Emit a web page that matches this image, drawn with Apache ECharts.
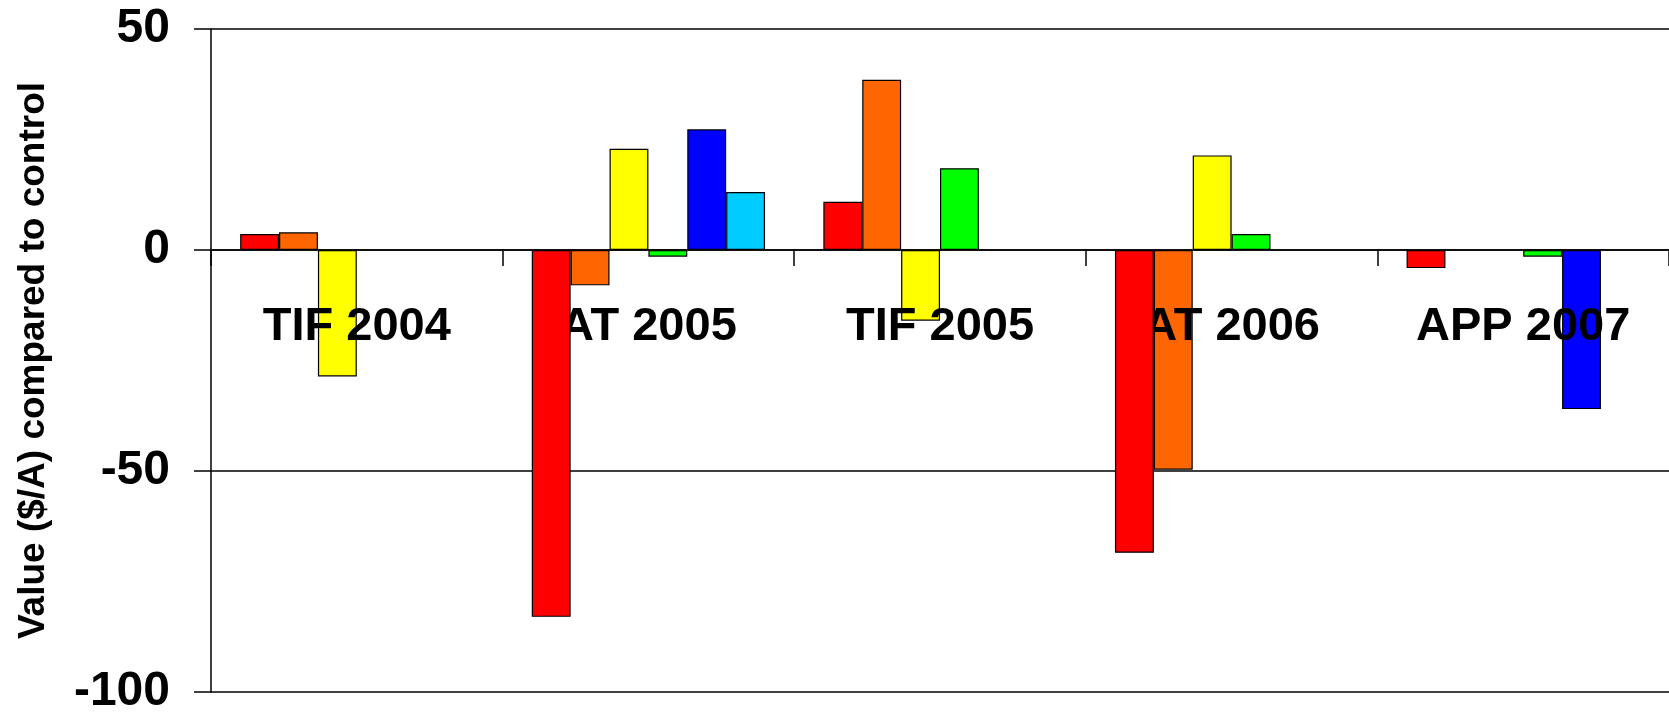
<!DOCTYPE html>
<html>
<head>
<meta charset="utf-8">
<script src="https://cdn.jsdelivr.net/npm/echarts@6/dist/echarts.min.js"></script>
<style>
html,body{margin:0;padding:0;background:#fff;}
#chart{width:1669px;height:712px;}
</style>
</head>
<body>
<div id="chart"></div>
<script>
const categories = ['TIF 2004', 'AT 2005', 'TIF 2005', 'AT 2006', 'APP 2007'];
const yTicks = [-100, -50, 0, 50];
const seriesNames = ['Series 1', 'Series 2', 'Series 3', 'Series 4', 'Series 5', 'Series 6'];
const s1 = [3.6, -83.0, 10.9, -68.5, -4.1];
const s2 = [4.0, -8.0, 38.5, -49.7, null];
const s3 = [-28.6, 22.9, -16.0, 21.4, null];
const s4 = [null, -1.5, 18.5, 3.6, -1.5];
const s5 = [null, 27.3, null, null, -36.0];
const s6 = [null, 13.1, null, null, null];
const colors = ['#FF0000', '#FF6600', '#FFFF00', '#00FF00', '#0000FF', '#00CCFF'];

const allData = [s1, s2, s3, s4, s5, s6];
const font = "'Liberation Sans', Arial, sans-serif";

const chart = echarts.init(document.getElementById('chart'), null, {renderer: 'canvas'});
chart.setOption({
  animation: false,
  backgroundColor: '#ffffff',
  grid: {left: 211, right: 0, top: 29, bottom: 20, containLabel: false, outerBoundsMode: 'none'},
  xAxis: [{
    type: 'category',
    data: categories,
    z: 3,
    axisLine: {onZero: true, lineStyle: {color: '#000', width: 1.5}},
    axisTick: {show: true, length: 16, inside: false, lineStyle: {color: '#000', width: 1.5}},
    axisLabel: {show: false},
    splitLine: {show: false}
  }, {
    type: 'category',
    data: categories,
    position: 'top',
    z: 3,
    axisLine: {show: false},
    axisTick: {show: false},
    axisLabel: {
      inside: true,
      margin: 275,
      color: '#000',
      fontFamily: font,
      fontWeight: 'bold',
      fontSize: 47
    },
    splitLine: {show: false}
  }],
  yAxis: {
    type: 'value',
    min: yTicks[0],
    max: yTicks[yTicks.length - 1],
    interval: 50,
    name: 'Value ($/A) compared to control',
    nameLocation: 'middle',
    nameGap: 159,
    nameTextStyle: {color: '#000', fontFamily: font, fontWeight: 'bold', fontSize: 37},
    axisLine: {show: true, onZero: false, lineStyle: {color: '#000', width: 1.5}},
    axisTick: {show: true, length: 17, lineStyle: {color: '#000', width: 1.5}},
    axisLabel: {
      margin: 41,
      color: '#000',
      fontFamily: font,
      fontWeight: 'bold',
      fontSize: 48
    },
    splitLine: {show: true, lineStyle: {color: '#000', width: 1.5}}
  },
  series: allData.map((d, i) => ({
    name: seriesNames[i],
    type: 'bar',
    xAxisIndex: 0,
    data: d,
    z: i === 0 ? 4 : 2,
    barGap: '0%',
    barCategoryGap: '20%',
    itemStyle: {color: colors[i], borderColor: '#000', borderWidth: 1.2}
  }))
});
</script>
</body>
</html>
